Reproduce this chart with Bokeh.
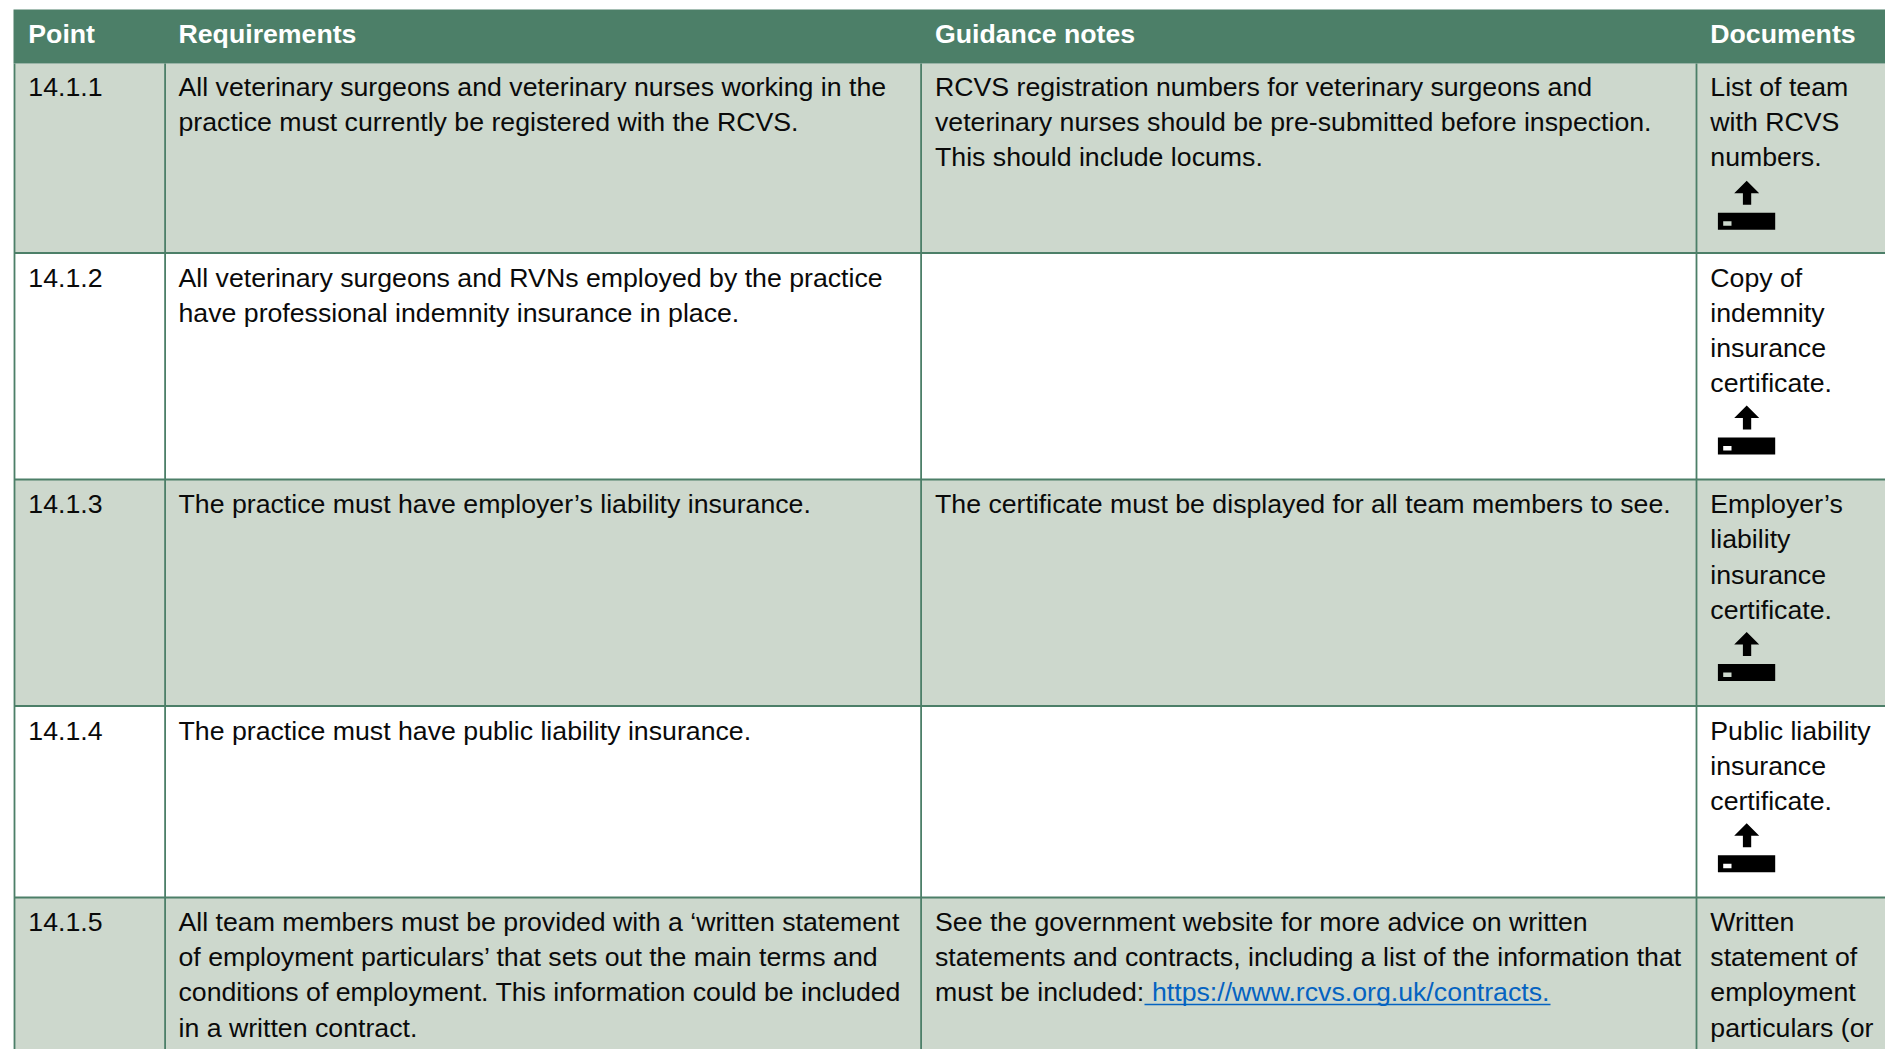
from bokeh.plotting import figure
from bokeh.models import ColumnDataSource, Range1d
from bokeh.core.properties import value
from bokeh.embed import file_html
from bokeh.resources import INLINE

headers = ["Point", "Requirements", "Guidance notes", "Documents"]
points = ["14.1.1", "14.1.2", "14.1.3", "14.1.4", "14.1.5"]
requirements = [
    ["All veterinary surgeons and veterinary nurses working in the",
     "practice must currently be registered with the RCVS."],
    ["All veterinary surgeons and RVNs employed by the practice",
     "have professional indemnity insurance in place."],
    ["The practice must have employer’s liability insurance."],
    ["The practice must have public liability insurance."],
    ["All team members must be provided with a ‘written statement",
     "of employment particulars’ that sets out the main terms and",
     "conditions of employment. This information could be included",
     "in a written contract."],
]
guidance = [
    ["RCVS registration numbers for veterinary surgeons and",
     "veterinary nurses should be pre-submitted before inspection.",
     "This should include locums."],
    [],
    ["The certificate must be displayed for all team members to see."],
    [],
    ["See the government website for more advice on written",
     "statements and contracts, including a list of the information that",
     "must be included:"],
]
documents = [
    ["List of team", "with RCVS", "numbers."],
    ["Copy of", "indemnity", "insurance", "certificate."],
    ["Employer’s", "liability", "insurance", "certificate."],
    ["Public liability", "insurance", "certificate."],
    ["Written", "statement of", "employment", "particulars (or"],
]
has_icon = [True, True, True, True, False]
link_text = "https://www.rcvs.org.uk/contracts."

# layout, in page pixels
W, H = 1885, 1049
col_lines = [14, 164.6, 920.6, 1696]
text_x = [27.8, 178, 934.5, 1709.8]
row_tops = [63, 252.5, 479, 705.5, 897]
first_line = [23.2, 24.6, 24.6, 24.6, 24.4]
header_y = 33.6
header_top, left_edge = 9, 13
pitch = 35.25
GREEN, PALE, INK, LINK = "#4C7F68", "#CDD8CD", "#0A0A0A", "#0563C1"
SIZE = "26.7px"
FONT = value("Liberation Sans")

p = figure(width=W, height=H, x_range=Range1d(0, W), y_range=Range1d(H, 0),
           toolbar_location=None, output_backend="svg", min_border=0,
           background_fill_color="white", border_fill_color="white", outline_line_color=None)
p.axis.visible = False
p.grid.visible = False

# fills
row_bottoms = row_tops[1:] + [H]
for top, bottom, fill in zip(row_tops, row_bottoms, [PALE, None, PALE, None, PALE]):
    if fill:
        p.quad(left=col_lines[0], right=W, top=top, bottom=bottom, fill_color=fill, line_color=None)
p.quad(left=left_edge, right=W, top=header_top, bottom=row_tops[0], fill_color=GREEN, line_color=None)

# rules
p.segment(x0=col_lines, x1=col_lines, y0=[row_tops[0]] * 4, y1=[H] * 4, line_color=GREEN, line_width=1.8)
p.segment(x0=[col_lines[0]] * 4, x1=[W] * 4, y0=row_tops[1:], y1=row_tops[1:], line_color=GREEN, line_width=1.8)

# header text
p.text(x=text_x, y=[header_y] * 4, text=headers, text_font=FONT, text_font_size=SIZE,
       text_font_style="bold", text_color="white", text_baseline="alphabetic")

# body text
xs, ys, ts = [], [], []
for r, top in enumerate(row_tops):
    cells = [[points[r]], requirements[r], guidance[r], documents[r]]
    for c, lines in enumerate(cells):
        for i, line in enumerate(lines):
            xs.append(text_x[c])
            ys.append(top + first_line[r] + i * pitch)
            ts.append(line)
p.text(x="x", y="y", text="t", source=ColumnDataSource(dict(x=xs, y=ys, t=ts)),
       text_font=FONT, text_font_size=SIZE, text_color=INK, text_baseline="alphabetic")

# link
link_y = row_tops[4] + first_line[4] + 2 * pitch
p.text(x=[1151.5], y=[link_y], text=[link_text], text_font=FONT, text_font_size=SIZE,
       text_color=LINK, text_baseline="alphabetic")
p.segment(x0=[1144], x1=[1550], y0=[1004], y1=[1004], line_color=LINK, line_width=1.6)

# upload icons
for r, top in enumerate(row_tops):
    if not has_icon[r]:
        continue
    t = top + len(documents[r]) * pitch + 11.5
    p.patch(x=[1746.2, 1758.7, 1750.7, 1750.7, 1742.4, 1742.4, 1733.7],
            y=[t, t + 12.5, t + 12.5, t + 24, t + 24, t + 12.5, t + 12.5],
            fill_color="black", line_color=None)
    p.quad(left=1717.4, right=1774.7, top=t + 32, bottom=t + 49, fill_color="black", line_color=None)
    p.quad(left=1722.7, right=1731, top=t + 40.5, bottom=t + 45, fill_color=PALE if r % 2 == 0 else "white", line_color=None)

open("out.html", "w").write(file_html(p, INLINE))
